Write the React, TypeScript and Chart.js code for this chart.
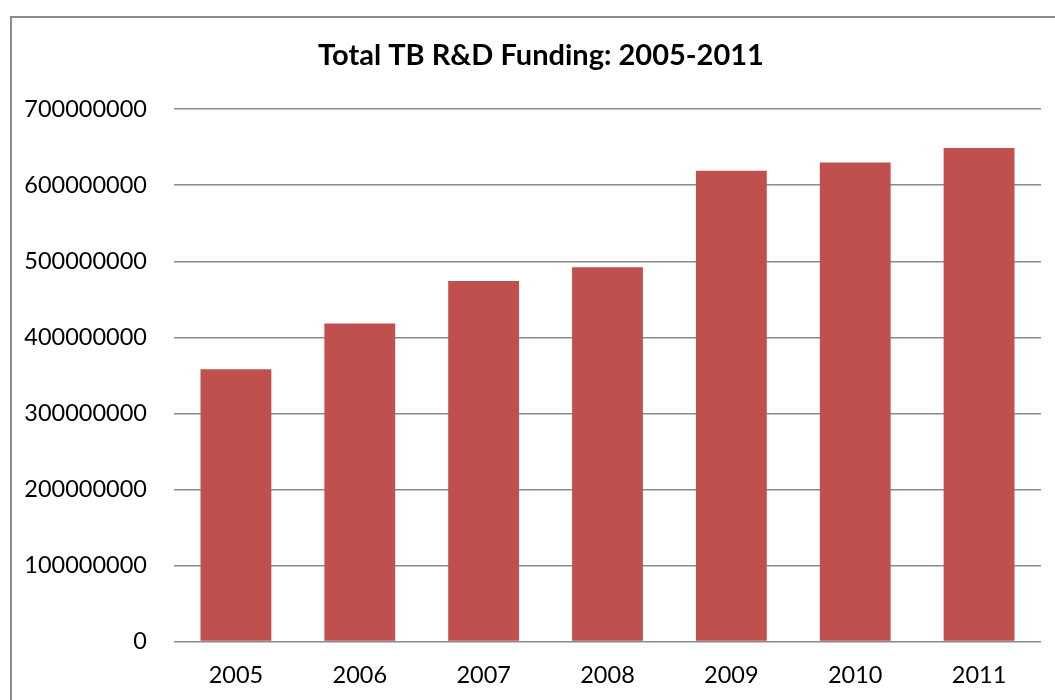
import React, { useEffect, useRef } from "react";
import { Chart, registerables } from "chart.js";

Chart.register(...registerables);

const years = ["2005", "2006", "2007", "2008", "2009", "2010", "2011"];
const funding = [358000000, 418000000, 474000000, 492000000, 619000000, 630000000, 649000000];
const yMax = 700000000;
const yStep = 100000000;
const titleText = "Total TB R&D Funding: 2005-2011";

export default function App() {
  const ref = useRef<HTMLCanvasElement | null>(null);
  useEffect(() => {
    if (!ref.current) return;
    const chart = new Chart(ref.current, {
      type: "bar",
      data: {
        labels: years,
        datasets: [
          {
            data: funding,
            backgroundColor: "#C0504D",
            borderWidth: 0,
            categoryPercentage: 1,
            barPercentage: 0.572,
          },
        ],
      },
      options: {
        animation: false,
        responsive: false,
        maintainAspectRatio: false,
        layout: { padding: { top: 22, right: 0, bottom: 0, left: 0 } },
        plugins: {
          legend: { display: false },
          tooltip: { enabled: false },
          title: {
            display: true,
            text: titleText,
            color: "#000",
            font: { family: "Lato", size: 29, weight: "bold", lineHeight: 1.1 },
            padding: { top: 0, bottom: 37.3 },
          },
        },
        scales: {
          x: {
            grid: { display: false },
            border: { display: false },
            afterFit: (s: any) => {
              s.height = 58.6;
            },
            ticks: {
              color: "#000",
              padding: 12,
              font: { family: "Lato", size: 23.5 },
            },
          },
          y: {
            min: 0,
            max: yMax,
            border: { display: false },
            grid: { color: "#8a8a8a", lineWidth: 1.5, drawTicks: false },
            afterFit: (s: any) => {
              s.width = 162;
            },
            ticks: {
              stepSize: yStep,
              color: "#000",
              padding: 27,
              font: { family: "Lato", size: 23.5 },
              callback: (v: any) => String(v),
            },
          },
          spacer: {
            type: "linear",
            position: "right",
            display: true,
            grid: { display: false },
            border: { display: false },
            ticks: { display: false },
            afterFit: (s: any) => {
              s.width = 29;
            },
          },
        },
      },
    });
    return () => chart.destroy();
  }, []);
  return (
    <div
      style={{
        position: "absolute",
        left: 10,
        top: 16,
        width: 1045,
        height: 684,
        borderLeft: "2px solid #8c8c8c",
        borderTop: "2px solid #8c8c8c",
        boxSizing: "border-box",
        background: "#fff",
        overflow: "hidden",
      }}
    >
      <canvas ref={ref} width={1058} height={682} style={{ display: "block", width: 1058, height: 682 }} />
    </div>
  );
}
